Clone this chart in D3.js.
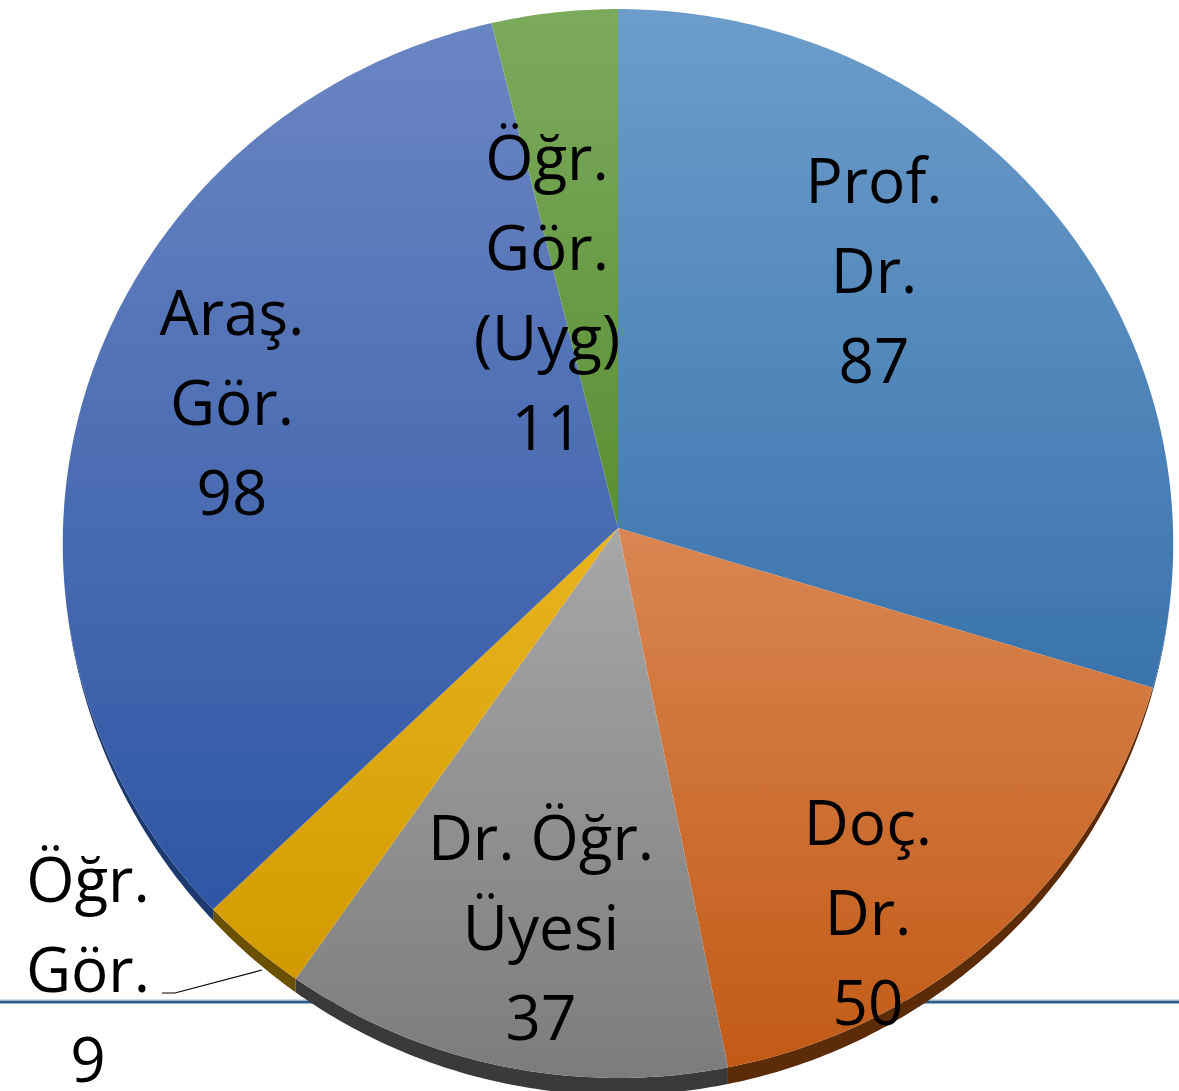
<!DOCTYPE html>
<html><head><meta charset="utf-8">
<script src="https://cdn.jsdelivr.net/npm/d3@7"></script>
<style>html,body{margin:0;padding:0;background:#fff;}svg{display:block;}</style>
</head><body>
<svg id="chart" width="1179" height="1091"></svg>
<script>
const categories = ["Prof. Dr.", "Doç. Dr.", "Dr. Öğr. Üyesi", "Öğr. Gör.", "Araş. Gör.", "Öğr. Gör. (Uyg)"];
const values = [87, 50, 37, 9, 98, 11];
const labelLines = [["Prof.", "Dr.", "87"], ["Doç.", "Dr.", "50"], ["Dr. Öğr.", "Üyesi", "37"], ["Öğr.", "Gör.", "9"], ["Araş.", "Gör.", "98"], ["Öğr.", "Gör.", "(Uyg)", "11"]];
const topColors = ["#6c9dca", "#d98652", "#a7a7a7", "#e8b41e", "#6a85c3", "#7baa5d"];
const bottomColors = ["#3a73ac", "#c25a16", "#7c7c7c", "#d19a00", "#2f56a4", "#5a8f34"];
const sideColors = ["#1f4a78", "#5c2c08", "#3a3a3a", "#6b5000", "#1c3a70", "#2e5018"];

const svg = d3.select("#chart");
const cx = 618, cy = 528, rx = 555, ry = 534, k = 0.029, depth = 17;

function proj(a, r) {
  const u = r * Math.sin(a), v = -r * Math.cos(a);
  const s = 1 / (1 - k * v);
  return [cx + rx * u * s, cy + ry * v * s];
}

const pie = d3.pie().sort(null).value(d => d)(values);
const line = d3.line();

const defs = svg.append("defs");
pie.forEach((p, i) => {
  const g = defs.append("linearGradient").attr("id", "g" + i).attr("x1", 0).attr("y1", 0).attr("x2", 0).attr("y2", 1);
  g.append("stop").attr("offset", "0%").attr("stop-color", topColors[i]);
  g.append("stop").attr("offset", "100%").attr("stop-color", bottomColors[i]);
});

// background horizontal rule
svg.append("line").attr("x1", 0).attr("x2", 1179).attr("y1", 1002).attr("y2", 1002)
  .attr("stroke", "#2f5d87").attr("stroke-width", 3);
svg.append("line").attr("x1", 0).attr("x2", 1179).attr("y1", 1000).attr("y2", 1000)
  .attr("stroke", "#9fbcd6").attr("stroke-width", 1);

function arcAngles(p) {
  const n = Math.max(4, Math.ceil((p.endAngle - p.startAngle) / 0.01));
  return d3.range(n + 1).map(j => p.startAngle + (p.endAngle - p.startAngle) * j / n);
}

// sides (thickness tapers toward the back)
pie.forEach((p, i) => {
  const angs = arcAngles(p);
  const top = angs.map(a => proj(a, 1));
  const bot = angs.map((a, j) => {
    const v = -Math.cos(a);
    const d = depth * Math.max(0, v - 0.1) / 0.9;
    return [top[j][0], top[j][1] + d];
  }).reverse();
  svg.append("path").attr("d", line(top.concat(bot)) + "Z").attr("fill", sideColors[i]);
});

// top faces
pie.forEach((p, i) => {
  const pts = [[cx, cy]].concat(arcAngles(p).map(a => proj(a, 1)));
  svg.append("path").attr("d", line(pts) + "Z").attr("fill", "url(#g" + i + ")");
});

// leader line
svg.append("path").attr("d", line([[162, 993], [175, 993], [262, 970]]))
  .attr("fill", "none").attr("stroke", "#000").attr("stroke-width", 1.2);

// labels
const labelPos = [[874, 203], [868, 845], [541, 860], [88, 902], [232, 335], [547, 180]];
const lh = 90;
labelLines.forEach((lines, i) => {
  const t = svg.append("text").attr("text-anchor", "middle")
    .attr("font-family", "'Open Sans', 'Noto Sans', sans-serif").attr("font-size", 62).attr("fill", "#000");
  lines.forEach((s, j) => {
    t.append("tspan").attr("x", labelPos[i][0]).attr("y", labelPos[i][1] + j * lh).text(s);
  });
});
</script>
</body></html>
